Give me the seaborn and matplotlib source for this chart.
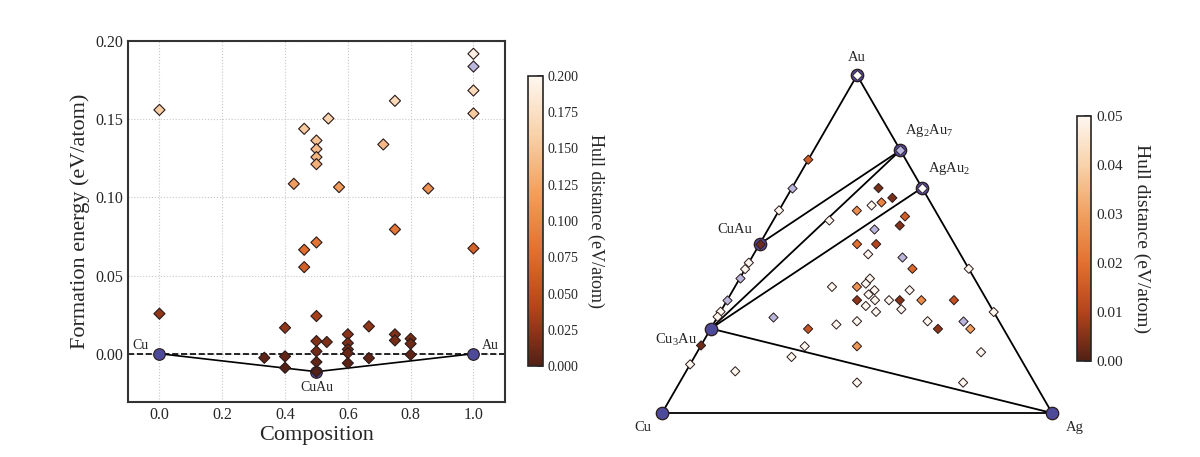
import numpy as np
import pandas as pd
import seaborn as sns
import matplotlib
matplotlib.use("Agg")
from matplotlib import pyplot as plt
from matplotlib.colors import LinearSegmentedColormap, Normalize
from matplotlib.cm import ScalarMappable

sns.set_style("white")
plt.rcParams['font.family'] = ['Liberation Serif', 'DejaVu Serif']
plt.rcParams['mathtext.fontset'] = 'custom'
plt.rcParams['mathtext.rm'] = 'Liberation Serif'

# binary Cu-Au: composition (Au fraction) and formation energy (eV/atom)
bin_x = [0.0, 0.0, 0.334, 0.4, 0.4, 0.4, 0.428, 0.461, 0.461, 0.461,
         0.5, 0.5, 0.5, 0.5, 0.5, 0.5, 0.5, 0.5, 0.5, 0.5,
         0.538, 0.533, 0.572, 0.6, 0.6, 0.6, 0.6, 0.6, 0.667, 0.667,
         0.713, 0.75, 0.75, 0.75, 0.75, 0.8, 0.8, 0.8, 0.856,
         1.0, 1.0, 1.0, 1.0, 1.0]
bin_e = [0.156, 0.0256, -0.0026, 0.0166, -0.0017, -0.0090, 0.1087, 0.1439, 0.0665, 0.0554,
         0.1364, 0.1309, 0.1258, 0.1213, 0.0712, 0.0241, 0.0081, 0.0015, -0.0053, -0.0115,
         0.1505, 0.0075, 0.1066, 0.0124, 0.0068, 0.0028, 0.0004, -0.0060, 0.0175, -0.0028,
         0.1339, 0.1618, 0.0795, 0.0124, 0.0085, 0.0096, 0.0064, -0.0006, 0.1057,
         0.1919, 0.1838, 0.1684, 0.1537, 0.0674]
bin_special = [40]  # lavender marker

hull_x = [0.0, 0.5, 1.0]
hull_e = [0.0, -0.0115, 0.0]
hull_names = ["Cu", "CuAu", "Au"]

# ternary Cu-Ag-Au: (Ag fraction, Au fraction, hull distance)
ter_ag = [0.0, 0.0, 0.0, 0.0, 0.0, 0.0, 0.0, 0.0, 0.0, 0.0, 0.0, 0.0,
          0.573, 0.701,
          0.144, 0.222, 0.272, 0.251, 0.230, 0.200, 0.332, 0.332, 0.2725, 0.250,
          0.299, 0.2935, 0.384, 0.4285, 0.334, 0.331, 0.249, 0.313, 0.363, 0.354,
          0.453, 0.333, 0.379, 0.415, 0.4425, 0.498, 0.5815, 0.364, 0.399, 0.460,
          0.143, 0.316, 0.364, 0.545, 0.636, 0.250, 0.583, 0.666, 0.401, 0.267,
          0.249, 0.728, 0.126, 0.455, 0.727]
ter_au = [0.75, 0.667, 0.6, 0.5, 0.445, 0.426, 0.4, 0.334, 0.30, 0.285, 0.20, 0.144,
          0.427, 0.299,
          0.570, 0.666, 0.637, 0.6235, 0.6146, 0.599, 0.582, 0.555, 0.5445, 0.5,
          0.5, 0.470, 0.4605, 0.427, 0.398, 0.383, 0.3735, 0.3735, 0.3636, 0.351,
          0.3636, 0.334, 0.334, 0.334, 0.334, 0.334, 0.334, 0.317, 0.2994, 0.307,
          0.2846, 0.262, 0.2717, 0.2717, 0.2717, 0.249, 0.249, 0.249, 0.1976, 0.1976,
          0.166, 0.18, 0.1235, 0.09, 0.09]
ter_dist = [0.016, 0.05, 0.06, 0.004, 0.06, 0.06, 0.05, 0.05, 0.06, 0.06, 0.003, 0.06,
            0.06, 0.06,
            0.06, 0.004, 0.004, 0.024, 0.06, 0.026, 0.016, 0.005, 0.05, 0.020,
            0.010, 0.06, 0.05, 0.018, 0.06, 0.06, 0.06, 0.027, 0.06, 0.06,
            0.06, 0.006, 0.06, 0.06, 0.005, 0.026, 0.013, 0.06, 0.06, 0.06,
            0.05, 0.06, 0.06, 0.06, 0.05, 0.014, 0.006, 0.030, 0.028, 0.06,
            0.06, 0.06, 0.06, 0.06, 0.06]
ter_special = [1, 6, 7, 22, 26, 44, 48]  # lavender markers

ter_hull_names = ["Cu", "Ag", "Au", "Cu$_\\mathregular{3}$Au", "CuAu",
                  "Ag$_\\mathregular{2}$Au$_\\mathregular{7}$", "AgAu$_\\mathregular{2}$"]
ter_hull_ag = [0.0, 1.0, 0.0, 0.0, 0.0, 2 / 9, 1 / 3]
ter_hull_au = [0.0, 0.0, 1.0, 0.25, 0.5, 7 / 9, 2 / 3]
ter_hull_top = [None, None, "#ffffff", None, "#6b2a22", "#b9b6dd", "#ffffff"]
ter_ties = [("Cu", "Ag"), ("Cu", "Au"), ("Au", "Ag"),
            ("Cu$_\\mathregular{3}$Au", "Ag"), ("Cu$_\\mathregular{3}$Au", "AgAu$_\\mathregular{2}$"),
            ("Cu$_\\mathregular{3}$Au", "Ag$_\\mathregular{2}$Au$_\\mathregular{7}$"),
            ("CuAu", "Ag$_\\mathregular{2}$Au$_\\mathregular{7}$")]

cmap = LinearSegmentedColormap.from_list(
    "hull", ["#522015", "#b4441c", "#e27130", "#f0a060", "#f8d2aa", "#fef7f0"])
lavender = "#b9b6dd"
blue = "#4e4a9a"
edge = "#2a1a1a"


def tern(ag, au):
    ag = np.asarray(ag, float)
    au = np.asarray(au, float)
    return ag + au / 2, au * np.sqrt(3) / 2


fig = plt.figure(figsize=(12, 4.57), dpi=100)

# ---- left: binary hull ----
ax = fig.add_axes([0.1067, 0.120, 0.314, 0.790])
df = pd.DataFrame({"x": bin_x, "e": bin_e})
df["dist"] = df["e"] - np.interp(df["x"], hull_x, hull_e)
df["special"] = False
df.loc[bin_special, "special"] = True
norm_l = Normalize(0, 0.2)

ax.axhline(0, color="black", ls="--", lw=1.2, zorder=1)
ax.plot(hull_x, hull_e, color="black", lw=1.2, zorder=1)
sns.scatterplot(data=df[~df.special], x="x", y="e", hue="dist", palette=cmap,
                hue_norm=norm_l, marker="D", s=32, edgecolor=edge, linewidth=0.8,
                legend=False, ax=ax, zorder=3)
sns.scatterplot(data=df[df.special], x="x", y="e", color=lavender, marker="D", s=32,
                edgecolor=edge, linewidth=0.8, legend=False, ax=ax, zorder=3)
ax.scatter(hull_x, hull_e, s=70, color=blue, edgecolor=edge, linewidth=0.8, zorder=2)
ax.annotate(hull_names[0], (hull_x[0], hull_e[0]), xytext=(-8, 1), textcoords="offset points",
            ha="right", va="bottom", fontsize=10)
ax.annotate(hull_names[1], (hull_x[1], hull_e[1]), xytext=(0, -7), textcoords="offset points",
            ha="center", va="top", fontsize=10)
ax.annotate(hull_names[2], (hull_x[2], hull_e[2]), xytext=(6, 1), textcoords="offset points",
            ha="left", va="bottom", fontsize=10)
ax.set_xlim(-0.1, 1.1)
ax.set_ylim(-0.031, 0.20)
ax.set_xticks(np.arange(0, 1.01, 0.2))
ax.set_yticks(np.arange(0, 0.201, 0.05))
ax.xaxis.set_major_formatter(matplotlib.ticker.FormatStrFormatter("%.1f"))
ax.yaxis.set_major_formatter(matplotlib.ticker.FormatStrFormatter("%.2f"))
ax.grid(True, ls=":", color="#c8c8c8", lw=0.8)
ax.tick_params(direction="in", labelsize=11.5, length=4, color="#333333")
for sp in ax.spines.values():
    sp.set_color("#333333")
    sp.set_linewidth(1.5)
ax.set_xlabel("Composition", fontsize=16, labelpad=2)
ax.set_ylabel("Formation energy (eV/atom)", fontsize=16)

cax1 = fig.add_axes([0.4400, 0.199, 0.0125, 0.635])
cb1 = fig.colorbar(ScalarMappable(norm=norm_l, cmap=cmap), cax=cax1)
cb1.set_ticks(np.arange(0, 0.201, 0.025))
cb1.ax.yaxis.set_major_formatter(matplotlib.ticker.FormatStrFormatter("%.3f"))
cb1.ax.tick_params(direction="in", labelsize=10, length=4, width=1.2, color="#333333")
cb1.outline.set_linewidth(1.2)
cb1.set_label("Hull distance (eV/atom)", rotation=270, fontsize=13, labelpad=18)

# ---- right: ternary hull ----
tx = fig.add_axes([0.5192, 0.01094, 0.39, 0.9097])
tx.set_xlim(-0.1, 1.1)
tx.set_ylim(-0.1, 0.966)
tx.axis("off")

hx, hy = tern(ter_hull_ag, ter_hull_au)
pos = {n: (hx[i], hy[i]) for i, n in enumerate(ter_hull_names)}
for a, b in ter_ties:
    tx.plot([pos[a][0], pos[b][0]], [pos[a][1], pos[b][1]], color="black", lw=1.3, zorder=1)

tdf = pd.DataFrame({"ag": ter_ag, "au": ter_au, "dist": ter_dist})
tdf["px"], tdf["py"] = tern(tdf["ag"], tdf["au"])
tdf["special"] = False
tdf.loc[ter_special, "special"] = True
norm_r = Normalize(0, 0.05)
sns.scatterplot(data=tdf[~tdf.special], x="px", y="py", hue="dist", palette=cmap,
                hue_norm=norm_r, marker="D", s=22, edgecolor=edge, linewidth=0.7,
                legend=False, ax=tx, zorder=3)
sns.scatterplot(data=tdf[tdf.special], x="px", y="py", color=lavender, marker="D", s=22,
                edgecolor=edge, linewidth=0.7, legend=False, ax=tx, zorder=3)
tx.scatter(hx, hy, s=80, color=blue, edgecolor=edge, linewidth=0.9, zorder=4)
for i, c in enumerate(ter_hull_top):
    if c is not None:
        tx.scatter([hx[i]], [hy[i]], s=24, marker="D", color=c, edgecolor=edge,
                   linewidth=0.6, zorder=5)

lab_off = {"Cu": (-8, -6, "right", "top"), "Ag": (10, -6, "left", "top"),
           "Au": (0, 8, "center", "bottom"),
           "Cu$_\\mathregular{3}$Au": (-10, -8, "right", "center"),
           "CuAu": (-5, 6, "right", "bottom"),
           "Ag$_\\mathregular{2}$Au$_\\mathregular{7}$": (3, 8, "left", "bottom"),
           "AgAu$_\\mathregular{2}$": (4, 8, "left", "bottom")}
for n in ter_hull_names:
    dx, dy, ha, va = lab_off[n]
    tx.annotate(n, pos[n], xytext=(dx, dy), textcoords="offset points",
                ha=ha, va=va, fontsize=10.5)

cax2 = fig.add_axes([0.8975, 0.210, 0.0117, 0.536])
cb2 = fig.colorbar(ScalarMappable(norm=norm_r, cmap=cmap), cax=cax2)
cb2.set_ticks(np.arange(0, 0.051, 0.01))
cb2.ax.yaxis.set_major_formatter(matplotlib.ticker.FormatStrFormatter("%.2f"))
cb2.ax.tick_params(direction="in", labelsize=11, length=5, width=1.2, color="#333333")
cb2.outline.set_linewidth(1.2)
cb2.set_label("Hull distance (eV/atom)", rotation=270, fontsize=14, labelpad=20)

fig.savefig("out.png", dpi=100)
